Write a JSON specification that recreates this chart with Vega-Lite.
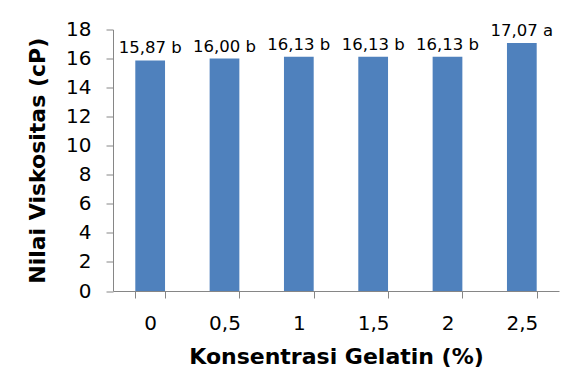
{
  "$schema": "https://vega.github.io/schema/vega-lite/v6.json",
  "width": 446,
  "height": 261.5,
  "autosize": {"type": "none"},
  "padding": {"left": 113, "top": 29.5, "right": 20, "bottom": 86},
  "background": "white",
  "data": {
    "values": [
      {"konsentrasi": "0", "viskositas": 15.87, "label": "15,87 b"},
      {"konsentrasi": "0,5", "viskositas": 16.00, "label": "16,00 b"},
      {"konsentrasi": "1", "viskositas": 16.13, "label": "16,13 b"},
      {"konsentrasi": "1,5", "viskositas": 16.13, "label": "16,13 b"},
      {"konsentrasi": "2", "viskositas": 16.13, "label": "16,13 b"},
      {"konsentrasi": "2,5", "viskositas": 17.07, "label": "17,07 a"}
    ]
  },
  "encoding": {
    "x": {
      "field": "konsentrasi",
      "type": "nominal",
      "sort": null,
      "scale": {"paddingInner": 0.6, "paddingOuter": 0.3},
      "axis": {
        "title": "Konsentrasi Gelatin (%)",
        "labelAngle": 0,
        "labelFont": "DejaVu Sans",
        "labelFontSize": 20,
        "labelColor": "#000000",
        "labelPadding": 15,
        "tickSize": 7,
        "tickColor": "#868686",
        "tickBand": "extent",
        "domainColor": "#868686",
        "titleFont": "DejaVu Sans",
        "titleFontSize": 22,
        "titleFontWeight": "bold",
        "titleColor": "#000000",
        "titlePadding": 13
      }
    },
    "y": {
      "field": "viskositas",
      "type": "quantitative",
      "scale": {"domain": [0, 18], "nice": false},
      "axis": {
        "title": "Nilai  Viskositas (cP)",
        "values": [0, 2, 4, 6, 8, 10, 12, 14, 16, 18],
        "grid": false,
        "labelFont": "DejaVu Sans",
        "labelFontSize": 20,
        "labelColor": "#000000",
        "labelPadding": 15,
        "tickSize": 7,
        "tickColor": "#868686",
        "domainColor": "#868686",
        "titleFont": "DejaVu Sans",
        "titleFontSize": 22,
        "titleFontWeight": "bold",
        "titleColor": "#000000",
        "titlePadding": 16
      }
    }
  },
  "layer": [
    {"mark": {"type": "bar", "color": "#4F81BD"}},
    {
      "mark": {"type": "text", "font": "DejaVu Sans", "fontSize": 16.5, "color": "#000000", "baseline": "alphabetic", "dy": -7},
      "encoding": {"text": {"field": "label"}}
    }
  ],
  "config": {"view": {"stroke": null}}
}
